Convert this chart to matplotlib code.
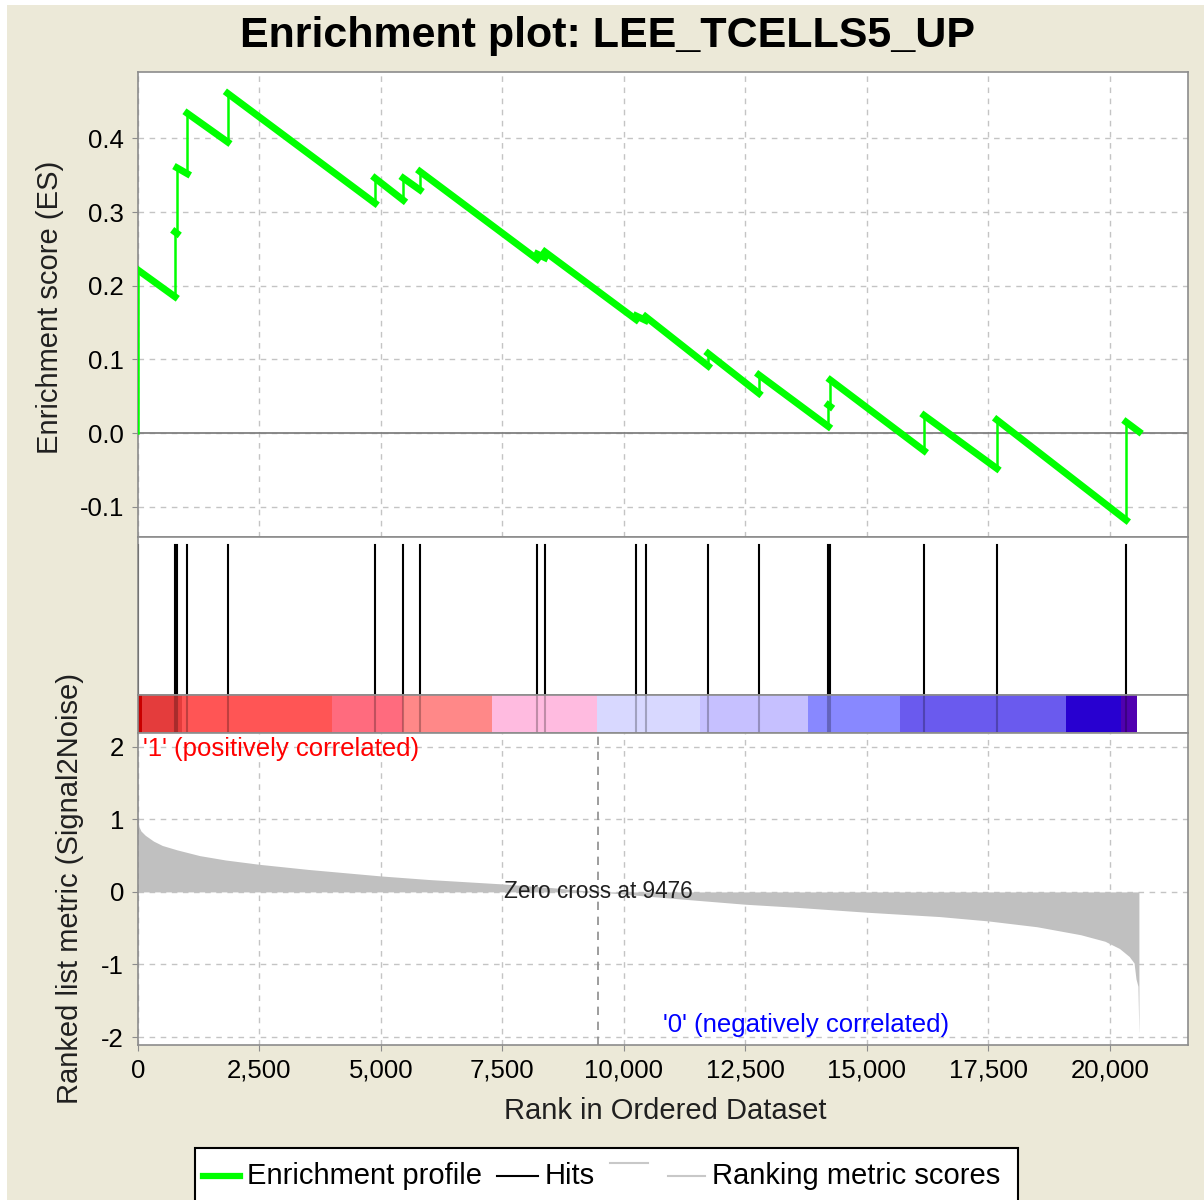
import matplotlib
matplotlib.use("Agg")
import matplotlib.pyplot as plt
from matplotlib.patches import Rectangle
from matplotlib.lines import Line2D
from matplotlib.ticker import FuncFormatter

plt.rcParams['font.family'] = ['Liberation Sans', 'DejaVu Sans']
plt.rcParams['axes.unicode_minus'] = False

# ---------------- data ----------------
title = "Enrichment plot: LEE_TCELLS5_UP"
n_genes = 20600
zero_cross = 9476

hit_ranks = [5, 761, 802, 1014, 1845, 4877, 5460, 5802, 8216, 8374,
             10253, 10446, 11735, 12778, 14208, 14249, 16179, 17675, 20336]
es_before = [0.000, 0.185, 0.271, 0.352, 0.395, 0.312, 0.316, 0.330, 0.236, 0.238,
             0.154, 0.153, 0.091, 0.054, 0.009, 0.036, -0.024, -0.048, -0.118]
es_after = [0.221, 0.273, 0.360, 0.434, 0.461, 0.346, 0.346, 0.355, 0.243, 0.246,
            0.159, 0.158, 0.108, 0.079, 0.038, 0.072, 0.024, 0.018, 0.015]
es_end = 0.002

metric_ranks = [0, 20, 60, 150, 320, 500, 800, 1270, 1800, 2500, 3500, 5000, 6000,
                7500, 8500, 9476, 10500, 11400, 12500, 13500, 15000, 16500, 17500,
                18500, 19400, 19900, 20200, 20400, 20500, 20540, 20580, 20598, 20600]
metric_values = [1.00, 0.90, 0.84, 0.78, 0.70, 0.64, 0.58, 0.50, 0.44, 0.38, 0.31, 0.22, 0.17,
                 0.11, 0.06, 0.00, -0.06, -0.11, -0.17, -0.21, -0.28, -0.34, -0.40,
                 -0.48, -0.59, -0.68, -0.78, -0.89, -0.98, -1.20, -1.30, -1.93, -1.93]

band_starts = [0, 75, 900, 3986, 5460, 7278, 9438, 11564, 13792, 15679, 19109, 20240]
band_ends = [75, 900, 3986, 5460, 7278, 9438, 11564, 13792, 15679, 19109, 20240, 20562]
band_colors = ['#C80000', '#E43C3C', '#FF5555', '#FF6B7E', '#FF8888', '#FFBBE0',
               '#D8D8FF', '#C6C0FF', '#8888FF', '#6A5AEE', '#2800D0', '#5000B0']

x_ticks = [0, 2500, 5000, 7500, 10000, 12500, 15000, 17500, 20000]
es_ticks = [-0.1, 0.0, 0.1, 0.2, 0.3, 0.4]
metric_ticks = [-2, -1, 0, 1, 2]

# ---------------- layout ----------------
W, H = 1204, 1200
fig = plt.figure(figsize=(W / 100, H / 100), dpi=100, facecolor='white')

def fx(px):
    return px / W

def fy(py):
    return 1 - py / H

fig.add_artist(Rectangle((fx(7), 0), 1, fy(5), transform=fig.transFigure,
                         facecolor='#ECE9D8', edgecolor='none', zorder=-10))

L, R = 138, 1188
def add_ax(top, bottom):
    return fig.add_axes([fx(L), fy(bottom), fx(R) - fx(L), (bottom - top) / H])

ax_es = add_ax(72, 537)
ax_hits = add_ax(537, 695)
ax_bar = add_ax(695, 733)
ax_met = add_ax(733, 1045)

XMAX = 21610
spine_col = '#8C8C8C'
grid_kw = dict(color='#C4C4C4', linestyle=(0, (4, 4)), linewidth=1.0)

for ax in (ax_es, ax_hits, ax_bar, ax_met):
    ax.set_xlim(0, XMAX)
    ax.set_facecolor('white')
    for s in ax.spines.values():
        s.set_color(spine_col)
        s.set_linewidth(1.2)

# ---- ES panel ----
ax_es.set_ylim(-0.141, 0.49)
ax_es.set_xticks(x_ticks)
ax_es.set_yticks(es_ticks)
ax_es.grid(True, **grid_kw)
ax_es.set_axisbelow(True)
ax_es.axhline(0, color='#808080', lw=1.3, zorder=2)
ax_es.tick_params(axis='x', labelbottom=False, length=0)
ax_es.tick_params(axis='y', labelsize=18.5, length=4, pad=6, color=spine_col)
ax_es.yaxis.set_major_formatter(FuncFormatter(lambda v, p: f"{v:.1f}"))

green = '#00FF00'
ax_es.plot([0, hit_ranks[0]], [0, es_before[0]], color=green, lw=1.6, zorder=3)
for i, r in enumerate(hit_ranks):
    ax_es.plot([r, r], [es_before[i], es_after[i]], color=green, lw=1.8, zorder=3)
    if i + 1 < len(hit_ranks):
        nxt_r, nxt_v = hit_ranks[i + 1], es_before[i + 1]
    else:
        nxt_r, nxt_v = n_genes, es_end
    ax_es.plot([r, nxt_r], [es_after[i], nxt_v], color=green, lw=5.0,
               solid_capstyle='projecting', zorder=3)

# ---- hits panel ----
ax_hits.set_ylim(0, 1)
ax_hits.set_xticks([])
ax_hits.set_yticks([])
for r in hit_ranks:
    ax_hits.plot([r, r], [0, 0.95], color='black', lw=1.5)

# ---- color bar ----
ax_bar.set_ylim(0, 1)
ax_bar.set_xticks([])
ax_bar.set_yticks([])
for s, e, c in zip(band_starts, band_ends, band_colors):
    ax_bar.add_patch(Rectangle((s, 0), e - s, 1, facecolor=c, edgecolor='none'))
for r in hit_ranks:
    ax_bar.plot([r, r], [0, 1], color='black', lw=1.5, alpha=0.25)

# ---- metric panel ----
ax_met.set_ylim(-2.11, 2.19)
ax_met.set_xticks(x_ticks)
ax_met.set_yticks(metric_ticks)
ax_met.grid(True, **grid_kw)
ax_met.set_axisbelow(True)
ax_met.fill_between(metric_ranks, 0, metric_values, color='#C0C0C0', lw=0, zorder=2)
ax_met.axvline(zero_cross, color='#8C8C8C', lw=1.2, linestyle=(0, (5, 4)), zorder=3)
ax_met.tick_params(axis='both', labelsize=18.5, length=4, pad=6, color=spine_col)
ax_met.xaxis.set_major_formatter(FuncFormatter(lambda v, p: f"{int(v):,}"))
ax_met.yaxis.set_major_formatter(FuncFormatter(lambda v, p: f"{int(v)}"))

ax_met.text(zero_cross, 0.0, f"Zero cross at {zero_cross}", fontsize=16.3,
            ha='center', va='center', color='#202020', zorder=4)

fig.text(fx(143), fy(749), "'1' (positively correlated)", color='#FF0000',
         fontsize=18.5, ha='left', va='center')
fig.text(fx(663), fy(1025), "'0' (negatively correlated)", color='#0000FF',
         fontsize=18.5, ha='left', va='center')

# ---- labels ----
fig.text(fx(607), fy(36), title, fontsize=31, fontweight='bold', ha='center', va='center')
fig.text(fx(50), fy(307), "Enrichment score (ES)", fontsize=21, rotation=90,
         ha='center', va='center', color='#202020')
fig.text(fx(70), fy(889), "Ranked list metric (Signal2Noise)", fontsize=21, rotation=90,
         ha='center', va='center', color='#202020')
fig.text(fx(665), fy(1111), "Rank in Ordered Dataset", fontsize=21,
         ha='center', va='center', color='#202020')

# ---- legend ----
fig.add_artist(Rectangle((fx(195), fy(1215)), fx(1018) - fx(195), fy(1148) - fy(1215),
                         transform=fig.transFigure, facecolor='white',
                         edgecolor='black', lw=1.5))
ly = fy(1176)
fig.add_artist(Line2D([fx(203), fx(240)], [ly, ly], transform=fig.transFigure,
                      color=green, lw=4.5))
fig.text(fx(247), ly, "Enrichment profile", fontsize=21, ha='left', va='center')
fig.add_artist(Line2D([fx(497), fx(538)], [ly, ly], transform=fig.transFigure,
                      color='black', lw=1.5))
fig.text(fx(545), ly, "Hits", fontsize=21, ha='left', va='center')
fig.add_artist(Line2D([fx(610), fx(648)], [fy(1163), fy(1163)], transform=fig.transFigure,
                      color='#C8C8C8', lw=1.5))
fig.add_artist(Line2D([fx(668), fx(705)], [ly, ly], transform=fig.transFigure,
                      color='#C8C8C8', lw=1.5))
fig.text(fx(712), ly, "Ranking metric scores", fontsize=21, ha='left', va='center')

fig.savefig("out.png", dpi=100, facecolor=fig.get_facecolor())
